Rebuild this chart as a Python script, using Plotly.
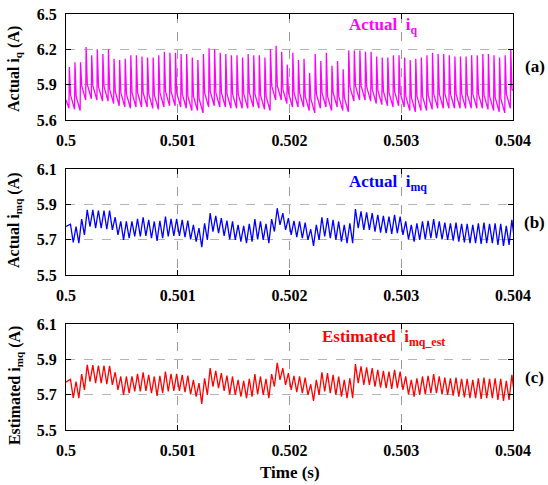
import plotly.graph_objects as go
from plotly.subplots import make_subplots

# ---------------- data ----------------
period = 0.00005          # one switching cycle (s)
t_first_iq = 0.50003      # time of first i_q spike
t_first_mq = 0.50004      # time of first i_mq ripple peak

iq_start = 5.77
iq_end = 5.85
iq_peak = [6.05, 6.09, 6.09, 6.22, 6.15, 6.20, 6.16, 6.20, 6.12, 6.11,
           6.12, 6.15, 6.15, 6.14, 6.13, 6.13, 6.15, 6.18, 6.17, 6.17,
           6.16, 6.16, 6.13, 6.11, 6.16, 6.21, 6.20, 6.17, 6.16, 6.15,
           6.15, 6.13, 6.16, 6.15, 6.15, 6.13, 6.20, 6.23, 6.18, 6.07,
           6.17, 6.11, 6.12, 6.00, 6.16, 6.10, 6.17, 6.06, 6.10, 6.03,
           6.19, 6.19, 6.19, 6.18, 6.18, 6.14, 6.13, 6.13, 6.15, 6.15,
           6.13, 6.11, 6.12, 6.13, 6.15, 6.17, 6.16, 6.16, 6.15, 6.14,
           6.14, 6.14, 6.15, 6.15, 6.16, 6.16, 6.15, 6.13, 6.15, 6.20]
iq_knee = [5.81, 5.80, 5.89, 5.90, 5.89, 5.88, 5.88, 5.86, 5.84, 5.83,
           5.82, 5.83, 5.83, 5.83, 5.82, 5.81, 5.83, 5.84, 5.84, 5.83,
           5.82, 5.80, 5.80, 5.78, 5.83, 5.84, 5.83, 5.83, 5.82, 5.82,
           5.82, 5.82, 5.83, 5.82, 5.81, 5.80, 5.89, 5.89, 5.86, 5.83,
           5.83, 5.83, 5.80, 5.78, 5.82, 5.83, 5.80, 5.83, 5.80, 5.79,
           5.88, 5.89, 5.89, 5.88, 5.86, 5.85, 5.84, 5.83, 5.84, 5.83,
           5.80, 5.79, 5.80, 5.80, 5.81, 5.82, 5.82, 5.82, 5.82, 5.82,
           5.82, 5.82, 5.82, 5.82, 5.81, 5.80, 5.79, 5.78, 5.82, 5.86]
iq_trough = [5.70, 5.69, 5.68, 5.77, 5.78, 5.77, 5.76, 5.76, 5.74, 5.72,
             5.71, 5.70, 5.71, 5.71, 5.71, 5.70, 5.69, 5.71, 5.72, 5.72,
             5.71, 5.70, 5.68, 5.68, 5.66, 5.71, 5.72, 5.71, 5.71, 5.70,
             5.70, 5.70, 5.70, 5.71, 5.70, 5.69, 5.68, 5.77, 5.77, 5.74,
             5.71, 5.71, 5.71, 5.68, 5.66, 5.70, 5.71, 5.68, 5.71, 5.68,
             5.67, 5.76, 5.77, 5.77, 5.76, 5.74, 5.73, 5.72, 5.71, 5.72,
             5.71, 5.68, 5.67, 5.68, 5.68, 5.69, 5.70, 5.70, 5.70, 5.70,
             5.70, 5.70, 5.70, 5.70, 5.70, 5.69, 5.68, 5.67, 5.66, 5.70]

mq_start = 5.775
mq_peak = [5.788, 5.774, 5.816, 5.869, 5.869, 5.865, 5.865, 5.865, 5.827, 5.803,
           5.803, 5.803, 5.818, 5.827, 5.812, 5.803, 5.807, 5.831, 5.818, 5.818,
           5.812, 5.808, 5.784, 5.765, 5.793, 5.850, 5.835, 5.822, 5.808, 5.803,
           5.784, 5.778, 5.790, 5.816, 5.803, 5.790, 5.816, 5.878, 5.850, 5.822,
           5.807, 5.803, 5.797, 5.759, 5.784, 5.827, 5.822, 5.812, 5.803, 5.784,
           5.793, 5.873, 5.860, 5.854, 5.850, 5.841, 5.835, 5.831, 5.841, 5.831,
           5.803, 5.784, 5.793, 5.803, 5.807, 5.816, 5.803, 5.797, 5.793, 5.797,
           5.790, 5.790, 5.784, 5.793, 5.797, 5.790, 5.793, 5.790, 5.778, 5.812]
mq_trough = [5.684, 5.680, 5.727, 5.774, 5.765, 5.765, 5.759, 5.755, 5.727, 5.699,
             5.708, 5.718, 5.718, 5.721, 5.708, 5.693, 5.708, 5.718, 5.721, 5.721,
             5.714, 5.702, 5.689, 5.657, 5.699, 5.746, 5.737, 5.721, 5.702, 5.699,
             5.689, 5.680, 5.689, 5.702, 5.699, 5.680, 5.746, 5.784, 5.755, 5.727,
             5.714, 5.708, 5.699, 5.665, 5.699, 5.718, 5.708, 5.699, 5.689, 5.680,
             5.680, 5.765, 5.755, 5.755, 5.746, 5.740, 5.737, 5.733, 5.737, 5.727,
             5.702, 5.689, 5.699, 5.702, 5.708, 5.708, 5.702, 5.699, 5.695, 5.689,
             5.684, 5.680, 5.680, 5.676, 5.680, 5.680, 5.670, 5.665, 5.670, 5.689]

est_start = 5.771
est_peak = [5.787, 5.774, 5.816, 5.869, 5.867, 5.865, 5.865, 5.863, 5.827, 5.803,
            5.803, 5.803, 5.818, 5.827, 5.812, 5.803, 5.807, 5.831, 5.818, 5.818,
            5.812, 5.808, 5.784, 5.765, 5.793, 5.850, 5.835, 5.822, 5.808, 5.803,
            5.784, 5.778, 5.790, 5.816, 5.803, 5.790, 5.816, 5.880, 5.850, 5.822,
            5.807, 5.803, 5.797, 5.759, 5.784, 5.827, 5.822, 5.812, 5.803, 5.784,
            5.793, 5.873, 5.860, 5.854, 5.850, 5.841, 5.835, 5.831, 5.841, 5.831,
            5.803, 5.784, 5.793, 5.803, 5.807, 5.816, 5.803, 5.797, 5.793, 5.797,
            5.790, 5.790, 5.784, 5.793, 5.797, 5.790, 5.793, 5.790, 5.778, 5.812]
est_trough = [5.682, 5.680, 5.727, 5.774, 5.765, 5.765, 5.759, 5.755, 5.727, 5.699,
              5.708, 5.718, 5.718, 5.721, 5.708, 5.693, 5.708, 5.718, 5.721, 5.721,
              5.714, 5.702, 5.689, 5.648, 5.699, 5.746, 5.737, 5.721, 5.702, 5.699,
              5.689, 5.680, 5.689, 5.702, 5.699, 5.680, 5.746, 5.784, 5.755, 5.727,
              5.714, 5.708, 5.699, 5.665, 5.699, 5.718, 5.708, 5.699, 5.689, 5.680,
              5.680, 5.765, 5.755, 5.755, 5.746, 5.740, 5.737, 5.733, 5.737, 5.727,
              5.702, 5.689, 5.699, 5.702, 5.708, 5.708, 5.702, 5.699, 5.695, 5.689,
              5.684, 5.680, 5.680, 5.676, 5.680, 5.680, 5.670, 5.665, 5.670, 5.689]

x_ticks = [0.5, 0.501, 0.502, 0.503, 0.504]
x_ticktext = ["0.5", "0.501", "0.502", "0.503", "0.504"]
y_ticks_top = [5.6, 5.9, 6.2, 6.5]
y_ticks_low = [5.5, 5.7, 5.9, 6.1]

# ---------------- build traces ----------------
x_iq, y_iq = [0.5], [iq_start]
for k in range(len(iq_peak)):
    tk = t_first_iq + k * period
    x_iq += [tk - 0.07 * period, tk, tk + 0.22 * period]
    y_iq += [iq_trough[k], iq_peak[k], iq_knee[k]]
x_iq.append(0.504)
y_iq.append(iq_end)


def ripple(start, peaks, troughs):
    xs, ys = [0.5], [start]
    for k in range(len(peaks)):
        tk = t_first_mq + k * period
        xs += [tk, tk + 0.5 * period]
        ys += [peaks[k], troughs[k]]
    return xs, ys


x_mq, y_mq = ripple(mq_start, mq_peak, mq_trough)
x_est, y_est = ripple(est_start, est_peak, est_trough)

fig = make_subplots(rows=3, cols=1)
fig.add_trace(go.Scatter(x=x_iq, y=y_iq, mode="lines",
                         line=dict(color="#ff00ff", width=1.3)), row=1, col=1)
fig.add_trace(go.Scatter(x=x_mq, y=y_mq, mode="lines",
                         line=dict(color="#0000ff", width=1.3)), row=2, col=1)
fig.add_trace(go.Scatter(x=x_est, y=y_est, mode="lines",
                         line=dict(color="#ff0000", width=1.3)), row=3, col=1)

font_family = "Liberation Serif, Times New Roman, serif"
tickfont = dict(family=font_family, size=16, color="black")

common = dict(showline=True, mirror="ticks", linecolor="black", linewidth=1,
              ticks="inside", ticklen=5, tickcolor="black", tickwidth=1,
              showgrid=True, griddash="dash", gridwidth=1,
              zeroline=False, tickfont=tickfont, automargin=False)

domains = [[0.7452, 1.0], [0.3726, 0.6274], [0.0, 0.2548]]
for i in range(3):
    xa = "xaxis" if i == 0 else f"xaxis{i+1}"
    ya = "yaxis" if i == 0 else f"yaxis{i+1}"
    fig.layout[xa].update(range=[0.5, 0.504], tickvals=x_ticks,
                          ticktext=[f"<b>{s}</b>" for s in x_ticktext],
                          ticklabelstandoff=6, gridcolor="#999999", **common)
    yt = y_ticks_top if i == 0 else y_ticks_low
    fig.layout[ya].update(range=[yt[0], yt[-1]], tickvals=yt,
                          ticktext=[f"<b>{v:.1f}</b>" for v in yt],
                          domain=domains[i], ticklabelstandoff=5,
                          gridcolor="#b4b4b4", **common)

ann_font = dict(family=font_family, size=16, color="black")
annotations = []
ytitles = [
    ("<b>Actual i<sub>q</sub> (A)</b>", 0.868),
    ("<b>Actual i<sub>mq</sub> (A)</b>", 0.505),
    ("<b>Estimated i<sub>mq</sub> (A)</b>", 0.108),
]
for txt, yy in ytitles:
    annotations.append(dict(text=txt, xref="paper", yref="paper", x=-0.114, y=yy,
                            xanchor="center", yanchor="middle", textangle=-90,
                            showarrow=False, font=ann_font))
for txt, yy in [("(a)", 0.875), ("(b)", 0.5), ("(c)", 0.127)]:
    annotations.append(dict(text=f"<b>{txt}</b>", xref="paper", yref="paper",
                            x=1.049, y=yy, xanchor="center", yanchor="middle",
                            showarrow=False,
                            font=dict(family=font_family, size=17, color="black")))
annotations.append(dict(text="<b>Time (s)</b>",
                        xref="paper", yref="paper", x=0.501, y=-0.103,
                        xanchor="center", yanchor="middle", showarrow=False,
                        font=dict(family=font_family, size=17, color="black")))
inplot = [
    ("<b>Actual  i<sub>q</sub></b>", "#ff00ff", 0.709, 0.971),
    ("<b>Actual  i<sub>mq</sub></b>", "#0000ff", 0.720, 0.594),
    ("<b>Estimated  i<sub>mq_est</sub></b>", "#ff0000", 0.711, 0.221),
]
for txt, col, xx, yy in inplot:
    annotations.append(dict(text=txt, xref="paper", yref="paper", x=xx, y=yy,
                            xanchor="center", yanchor="middle", showarrow=False,
                            font=dict(family=font_family, size=17, color=col)))

fig.update_layout(width=548, height=485,
                  margin=dict(l=66, r=35, t=14, b=55, autoexpand=False),
                  paper_bgcolor="white", plot_bgcolor="white",
                  showlegend=False, annotations=annotations)

fig.write_html("out.html")
